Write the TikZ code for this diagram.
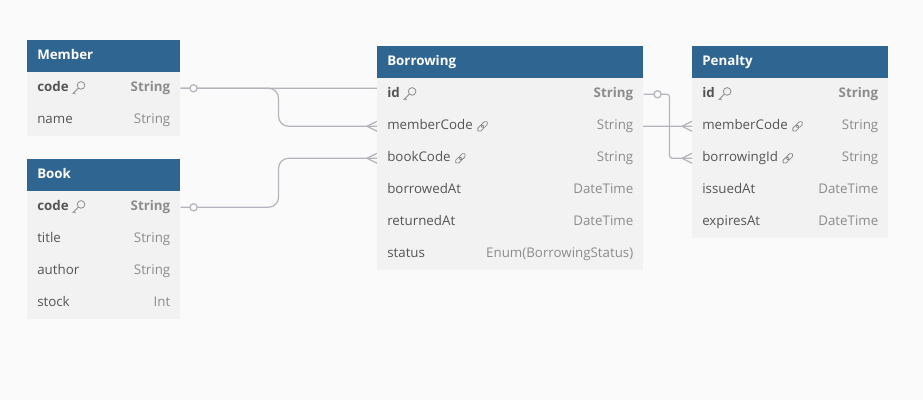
\documentclass[tikz,border=0pt]{standalone}
\usepackage{fontspec}
\setmainfont{Open Sans}
\usepackage{tikz}
\usetikzlibrary{positioning}

\definecolor{headblue}{HTML}{2F6591}
\definecolor{bodygray}{HTML}{F2F2F2}
\definecolor{pagegray}{HTML}{FAFAFA}
\definecolor{namegray}{HTML}{555555}
\definecolor{typegray}{HTML}{8C8C8C}
\definecolor{wiregray}{HTML}{B4B4BC}

\pgfdeclarelayer{page}
\pgfdeclarelayer{wires}
\pgfsetlayers{page,wires,main}

% small icons after field names
\newcommand\keyicon{\tikz[baseline=-0.5ex,x=1.3pt,y=1.3pt,typegray,line width=0.6pt]{\draw (1.7,1.7) circle (2.2); \draw (0.15,0.15) -- (-3.2,-3.2) (-2.4,-2.4) -- (-1.5,-3.3);}}
\newcommand\linkicon{\tikz[baseline=-0.5ex,x=1.3pt,y=1.3pt,typegray,line width=0.6pt]{\draw[rotate=45,rounded corners=1.3pt] (-3.6,-1.2) rectangle (0.6,1.2); \draw[rotate=45,rounded corners=1.3pt] (-0.6,-1.2) rectangle (3.6,1.2);}}

% table header and table row
\newcommand\ehead[5]{%
  \node[headbox, minimum width=#4] (#1) at (#2,#3) {};
  \node[headtext, right=7.5pt of #1.west] (#1-title) {#5};}
\newcommand\erow[6]{%
  \node[rowbox, minimum width=#4] (#1) at (#2,#3) {};
  \node[field, right=7.5pt of #1.west] (#1-f) {#5};
  \node[dtype, left=7.5pt of #1.east] (#1-t) {#6};}

\begin{document}
\begin{tikzpicture}[x=0.75pt, y=-0.75pt,
    headbox/.style={anchor=north west, fill=headblue, minimum height=24pt, inner sep=0pt},
    headtext/.style={text=white, font=\bfseries, inner sep=0pt, text height=7.5pt, text depth=2pt},
    rowbox/.style={anchor=north west, fill=bodygray, minimum height=24pt, inner sep=0pt},
    field/.style={text=namegray, inner sep=0pt, text height=7.5pt, text depth=2pt},
    dtype/.style={text=typegray, inner sep=0pt, text height=7.5pt, text depth=2pt},
    wire/.style={draw=wiregray, line width=0.9pt},
    onecirc/.style={draw=wiregray, line width=0.9pt, fill=pagegray}]
     \useasboundingbox (0,0) rectangle (923,400);

     % Member
     \ehead{member}{27}{40}{114.75pt}{Member}
     \erow{member-code}{27}{72}{114.75pt}{\textbf{code} \keyicon}{\textbf{String}}
     \erow{member-name}{27}{104}{114.75pt}{name}{String}

     % Book
     \ehead{book}{27}{159}{114.75pt}{Book}
     \erow{book-code}{27}{191}{114.75pt}{\textbf{code} \keyicon}{\textbf{String}}
     \erow{book-title}{27}{223}{114.75pt}{title}{String}
     \erow{book-author}{27}{255}{114.75pt}{author}{String}
     \erow{book-stock}{27}{287}{114.75pt}{stock}{Int}

     % Borrowing
     \ehead{borrow}{377}{46}{199.5pt}{Borrowing}
     \erow{borrow-id}{377}{78}{199.5pt}{\textbf{id} \keyicon}{\textbf{String}}
     \erow{borrow-member}{377}{110}{199.5pt}{memberCode \linkicon}{String}
     \erow{borrow-book}{377}{142}{199.5pt}{bookCode \linkicon}{String}
     \erow{borrow-out}{377}{174}{199.5pt}{borrowedAt}{DateTime}
     \erow{borrow-back}{377}{206}{199.5pt}{returnedAt}{DateTime}
     \erow{borrow-status}{377}{238}{199.5pt}{status}{Enum(BorrowingStatus)}

     % Penalty
     \ehead{penalty}{692}{46}{147pt}{Penalty}
     \erow{penalty-id}{692}{78}{147pt}{\textbf{id} \keyicon}{\textbf{String}}
     \erow{penalty-member}{692}{110}{147pt}{memberCode \linkicon}{String}
     \erow{penalty-borrow}{692}{142}{147pt}{borrowingId \linkicon}{String}
     \erow{penalty-issued}{692}{174}{147pt}{issuedAt}{DateTime}
     \erow{penalty-expires}{692}{206}{147pt}{expiresAt}{DateTime}

     \begin{pgfonlayer}{page}
     \fill[pagegray] (0,0) rectangle (923,400);
     \end{pgfonlayer}

     \begin{pgfonlayer}{wires}
     % relations
     \draw[wire, rounded corners=7.5pt] (member-code.east) -- ++(98,0) |- (borrow-member.west);
     \draw[wire, rounded corners=7.5pt] (book-code.east) -- ++(98,0) |- (borrow-book.west);
     \draw[wire, rounded corners=2pt] (member-code.east) -- ++(320,0) |- (penalty-member.west);
     \draw[wire, rounded corners=2pt] (borrow-id.east) -- ++(26,0) |- (penalty-borrow.west);
     % crow feet
     \draw[wire] ([xshift=-7.5pt]borrow-member.west) -- ([yshift=3.75pt]borrow-member.west)
                 ([xshift=-7.5pt]borrow-member.west) -- ([yshift=-3.75pt]borrow-member.west);
     \draw[wire] ([xshift=-7.5pt]borrow-book.west) -- ([yshift=3.75pt]borrow-book.west)
                 ([xshift=-7.5pt]borrow-book.west) -- ([yshift=-3.75pt]borrow-book.west);
     \draw[wire] ([xshift=-7.5pt]penalty-member.west) -- ([yshift=3.75pt]penalty-member.west)
                 ([xshift=-7.5pt]penalty-member.west) -- ([yshift=-3.75pt]penalty-member.west);
     \draw[wire] ([xshift=-7.5pt]penalty-borrow.west) -- ([yshift=3.75pt]penalty-borrow.west)
                 ([xshift=-7.5pt]penalty-borrow.west) -- ([yshift=-3.75pt]penalty-borrow.west);
     % one ends
     \draw[onecirc] ([xshift=9.75pt]member-code.east) circle (2.7pt);
     \draw[onecirc] ([xshift=9.75pt]book-code.east) circle (2.7pt);
     \draw[onecirc] ([xshift=10.5pt]borrow-id.east) circle (2.7pt);
     \end{pgfonlayer}
\end{tikzpicture}
\end{document}
